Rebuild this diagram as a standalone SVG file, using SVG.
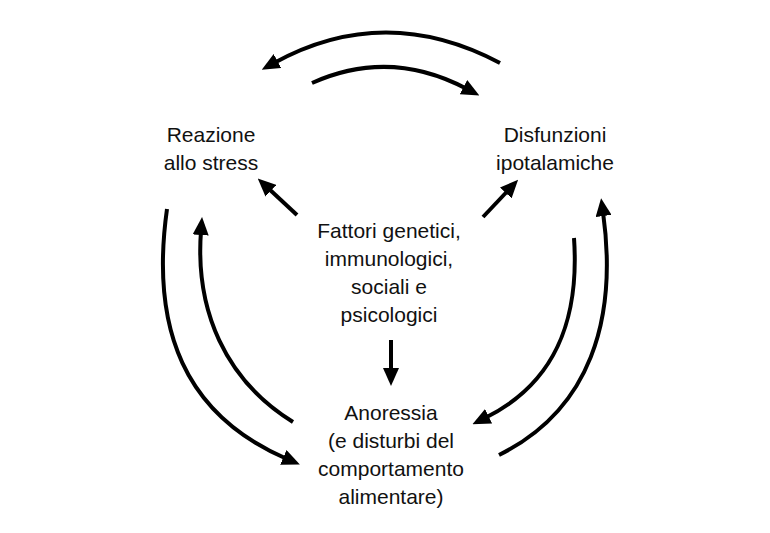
<svg xmlns="http://www.w3.org/2000/svg" width="770" height="533" viewBox="0 0 770 533">
<style>
.t{font-family:"Liberation Sans",Arial,sans-serif;font-size:21px;fill:#111;text-anchor:middle}
.c{fill:none;stroke:#000;stroke-width:4;marker-end:url(#ah)}
</style>
<defs>
<marker id="ah" viewBox="0 0 18 16" markerWidth="18" markerHeight="16" refX="4" refY="8" orient="auto" markerUnits="userSpaceOnUse">
<path d="M0,0 L18,8 L0,16 z" fill="#000"/>
</marker>
</defs>
<rect width="770" height="533" fill="#fff"/>
<g id="connectors">
<path class="c" d="M500,63 Q385,2 274,63"/>
<path class="c" d="M312,83 Q390,48 467,89"/>
<path class="c" d="M167,209 C150,330 185,415 287,459"/>
<path class="c" d="M293,422 C225,380 195,310 201,231"/>
<path class="c" d="M574,238 C580,325 552,385 485,418"/>
<path class="c" d="M499,455 C590,410 618,320 603,212"/>
<path class="c" d="M297,215 L268,188"/>
<path class="c" d="M483,217 L508.5,190"/>
<path class="c" d="M391,340 L391,372"/>
</g>
<g id="reazione">
<text class="t" x="211" y="142">Reazione</text>
<text class="t" x="211" y="170">allo stress</text>
</g>
<g id="disfunzioni">
<text class="t" x="555" y="142">Disfunzioni</text>
<text class="t" x="555" y="170">ipotalamiche</text>
</g>
<g id="fattori">
<text class="t" x="389" y="238">Fattori genetici,</text>
<text class="t" x="389" y="266">immunologici,</text>
<text class="t" x="389" y="294">sociali e</text>
<text class="t" x="389" y="322">psicologici</text>
</g>
<g id="anoressia">
<text class="t" x="391" y="420">Anoressia</text>
<text class="t" x="391" y="448">(e disturbi del</text>
<text class="t" x="391" y="476">comportamento</text>
<text class="t" x="391" y="504">alimentare)</text>
</g>
</svg>
